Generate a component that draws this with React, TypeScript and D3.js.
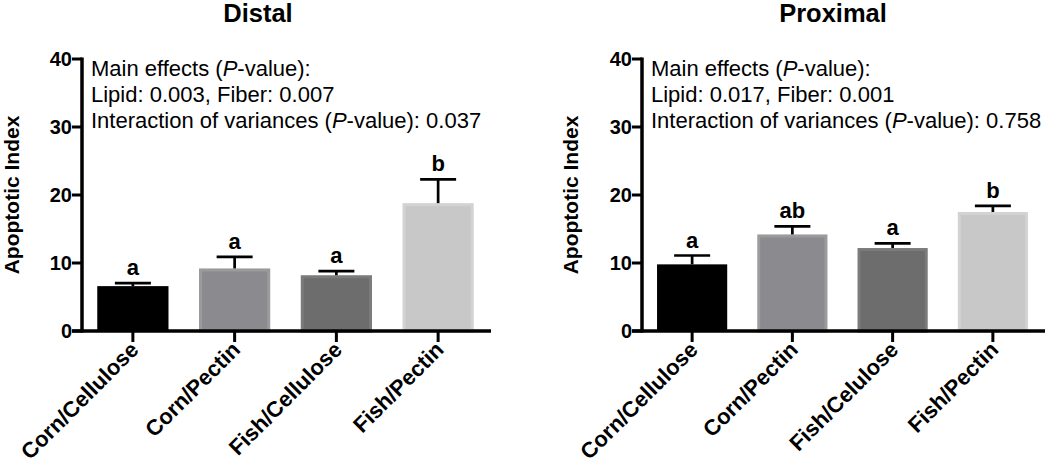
import React from "react";
import * as d3 from "d3";

const distalCategories = ["Corn/Cellulose", "Corn/Pectin", "Fish/Cellulose", "Fish/Pectin"];
const proximalCategories = ["Corn/Cellulose", "Corn/Pectin", "Fish/Celulose", "Fish/Pectin"];
const distalMeans = [6.6, 9.2, 8.2, 18.8];
const distalErrors = [0.45, 1.7, 0.6, 3.5];
const distalLetters = ["a", "a", "a", "b"];
const proximalMeans = [9.8, 14.2, 12.2, 17.5];
const proximalErrors = [1.3, 1.2, 0.7, 0.9];
const proximalLetters = ["a", "ab", "a", "b"];
const yTicks = [0, 10, 20, 30, 40];
const distalStats = ["Lipid: 0.003, Fiber: 0.007", "0.037"];
const proximalStats = ["Lipid: 0.017, Fiber: 0.001", "0.758"];

const barFills = ["#000000", "#8b8b8f", "#6d6d6d", "#c8c8c8"];
const barStrokes = ["#000000", "#9b9b9e", "#7b7b7b", "#d3d3d3"];

const FONT = "'Liberation Sans', Arial, Helvetica, sans-serif";

type PanelProps = {
  title: string;
  titleX: number;
  axisX: number;
  axisEnd: number;
  labelX: number;
  categories: string[];
  means: number[];
  errors: number[];
  letters: string[];
  stats: string[];
};

function Panel(p: PanelProps) {
  const y = d3.scaleLinear().domain([0, 40]).range([331, 59]);
  const x = d3
    .scaleBand<string>()
    .domain(p.categories)
    .range([p.axisX, p.axisEnd])
    .paddingInner(0.3)
    .paddingOuter(0.15);
  const bw = x.bandwidth();
  const capW = 36;
  return (
    <g fontFamily={FONT}>
      <text x={p.titleX} y={22} textAnchor="middle" fontWeight="bold" fontSize={25.5} fill="#000">
        {p.title}
      </text>
      {/* bars */}
      {p.categories.map((c, i) => {
        const x0 = x(c)!;
        const yTop = y(p.means[i]);
        const sw = i === 0 ? 0 : 3;
        return (
          <rect
            key={c}
            x={x0 + sw / 2}
            y={yTop + sw / 2}
            width={bw - sw}
            height={y(0) - yTop - sw / 2}
            fill={barFills[i]}
            stroke={barStrokes[i]}
            strokeWidth={sw}
          />
        );
      })}
      {/* error bars */}
      {p.categories.map((c, i) => {
        const cx = x(c)! + bw / 2;
        const yTop = y(p.means[i]);
        const yErr = y(p.means[i] + p.errors[i]);
        return (
          <g key={"e" + c} stroke="#000" strokeWidth={2.7}>
            <line x1={cx} x2={cx} y1={yTop} y2={yErr} />
            <line x1={cx - capW / 2} x2={cx + capW / 2} y1={yErr} y2={yErr} />
          </g>
        );
      })}
      {/* letters */}
      {p.categories.map((c, i) => {
        const cx = x(c)! + bw / 2;
        const yErr = y(p.means[i] + p.errors[i]);
        return (
          <text key={"l" + c} x={cx} y={yErr - 8} textAnchor="middle" fontWeight="bold" fontSize={22}>
            {p.letters[i]}
          </text>
        );
      })}
      {/* y axis */}
      <line x1={p.axisX} x2={p.axisX} y1={y(40) - 1.5} y2={y(0) + 1.5} stroke="#000" strokeWidth={3.5} />
      {yTicks.map((t) => (
        <g key={"t" + t}>
          <line x1={p.axisX - 10} x2={p.axisX} y1={y(t)} y2={y(t)} stroke="#000" strokeWidth={3} />
          <text x={p.axisX - 10} y={y(t)} dy="0.36em" textAnchor="end" fontWeight="bold" fontSize={20}>
            {t}
          </text>
        </g>
      ))}
      {/* x axis */}
      <line x1={p.axisX - 10} x2={p.axisEnd + 2} y1={y(0)} y2={y(0)} stroke="#000" strokeWidth={3.5} />
      {p.categories.map((c) => {
        const cx = x(c)! + bw / 2;
        return (
          <g key={"x" + c}>
            <line x1={cx} x2={cx} y1={y(0)} y2={y(0) + 11} stroke="#000" strokeWidth={3} />
            <text
              transform={`translate(${cx + 7},${y(0) + 20}) rotate(-45)`}
              textAnchor="end"
              fontWeight="bold"
              fontSize={22}
            >
              {c}
            </text>
          </g>
        );
      })}
      {/* y label */}
      <text
        transform={`translate(${p.labelX},${195}) rotate(-90)`}
        textAnchor="middle"
        fontWeight="bold"
        fontSize={21}
      >
        Apoptotic Index
      </text>
      {/* stats text */}
      <g fontSize={22}>
        <text x={p.axisX + 9} y={76}>
          Main effects (<tspan fontStyle="italic">P</tspan>-value):
        </text>
        <text x={p.axisX + 9} y={102}>
          {p.stats[0]}
        </text>
        <text x={p.axisX + 9} y={128}>
          Interaction of variances (<tspan fontStyle="italic">P</tspan>-value): {p.stats[1]}
        </text>
      </g>
    </g>
  );
}

export default function App() {
  return (
    <svg
      width={1050}
      height={466}
      style={{ position: "absolute", left: 0, top: 0, background: "#fff" }}
    >
      <rect width={1050} height={466} fill="#fff" />
      <Panel
        title="Distal"
        titleX={258}
        axisX={82}
        axisEnd={489}
        labelX={19}
        categories={distalCategories}
        means={distalMeans}
        errors={distalErrors}
        letters={distalLetters}
        stats={distalStats}
      />
      <Panel
        title="Proximal"
        titleX={833}
        axisX={642}
        axisEnd={1043}
        labelX={578}
        categories={proximalCategories}
        means={proximalMeans}
        errors={proximalErrors}
        letters={proximalLetters}
        stats={proximalStats}
      />
    </svg>
  );
}
